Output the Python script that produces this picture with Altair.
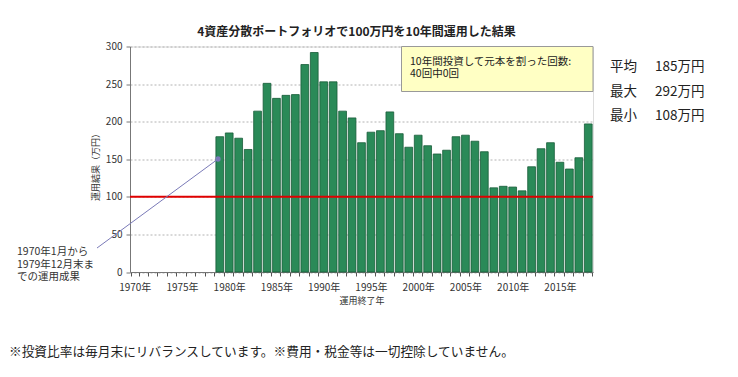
import altair as alt
import pandas as pd

years_all = list(range(1970, 2019))
years = list(range(1979, 2019))
values = [180, 185, 178, 163, 214, 251, 231, 235, 236, 276,
          292, 253, 253, 214, 205, 172, 186, 188, 213, 184,
          166, 182, 168, 157, 162, 180, 182, 174, 160, 112,
          114, 113, 108, 140, 164, 172, 146, 137, 152, 197]
y_ticks = [0, 50, 100, 150, 200, 250, 300]
ref_value = [100]
stat_labels = ["平均", "最大", "最小"]
stat_values = ["185万円", "292万円", "108万円"]

title_text = "4資産分散ポートフォリオで100万円を10年間運用した結果"
box_lines = ["10年間投資して元本を割った回数:", "40回中0回"]
note_lines = ["1970年1月から", "1979年12月末ま", "での運用成果"]
footer_text = "※投資比率は毎月末にリバランスしています。※費用・税金等は一切控除していません。"

FONT = "Noto Sans CJK JP"
W, H = 463, 225.5

df = pd.DataFrame({"year": years, "value": values})
ref_df = pd.DataFrame({"v": ref_value})

y_scale = alt.Scale(domain=[0, 300], nice=False)
y_axis = alt.Axis(title="運用結果（万円）", values=y_ticks, tickSize=4, labelPadding=4,
                  labelOverlap=False,
                  labelFontSize=10, labelColor="#333", labelFont=FONT,
                  titleFont=FONT, titleFontSize=9, titleFontWeight="normal", titleColor="#333",
                  titleAngle=-90, titleX=-35, titleY=118, titleBaseline="middle",
                  domainColor="#777", tickColor="#777",
                  grid=True, gridColor="#a0a0a0", gridDash=[2, 2], gridWidth=0.8)

bars = alt.Chart(df).mark_bar(fill="#2a8a58", stroke="#185c38", strokeWidth=0.8).encode(
    x=alt.X("year:O", scale=alt.Scale(domain=years_all, paddingInner=0.18, paddingOuter=0.09),
            axis=alt.Axis(title="運用終了年", labelExpr="datum.value % 5 == 0 ? datum.value + '年' : ''",
                          labelAngle=0, tickBand="extent", tickSize=4, labelPadding=6,
                          labelOverlap=False,
                          labelFontSize=10, labelColor="#333", labelFont=FONT,
                          titleFont=FONT, titleFontSize=9, titleFontWeight="normal", titleColor="#333",
                          titleY=28, titleBaseline="middle",
                          domainColor="#777", tickColor="#555", grid=False)),
    y=alt.Y("value:Q", scale=y_scale, axis=y_axis),
)

rule = alt.Chart(ref_df).mark_rule(color="#e00000", strokeWidth=2).encode(
    y=alt.Y("v:Q", scale=y_scale, axis=y_axis))

txt = dict(font=FONT, color="#222", baseline="middle", align="left")

title = alt.Chart(ref_df).mark_text(text=title_text, fontSize=12, fontWeight="bold",
                                     font=FONT, color="#222", baseline="middle", align="center").encode(
    x=alt.value(226.5), y=alt.value(-14.5))

box = alt.Chart(ref_df).mark_rect(fill="#ffffc4", stroke="#999", strokeWidth=1).encode(
    x=alt.value(271.5), x2=alt.value(W), y=alt.value(0), y2=alt.value(45))

layers_extra = []
for i, line in enumerate(box_lines):
    layers_extra.append(alt.Chart(ref_df).mark_text(text=line, fontSize=10.5, **txt).encode(
        x=alt.value(280), y=alt.value(15 + i * 12.5)))

for i, line in enumerate(note_lines):
    layers_extra.append(alt.Chart(ref_df).mark_text(text=line, fontSize=10.5, font=FONT, color="#333",
                                                    baseline="middle", align="left").encode(
        x=alt.value(-113), y=alt.value(205.5 + i * 12.5)))

arrow = alt.Chart(ref_df).mark_rule(color="#7a7ab8", strokeWidth=1).encode(
    x=alt.value(-33), y=alt.value(201.5), x2=alt.value(88), y2=alt.value(112.5))
dot = alt.Chart(ref_df).mark_point(filled=True, color="#7a7ab8", size=28, opacity=1).encode(
    x=alt.value(88), y=alt.value(112.5))

stats = []
for i, (lab, val) in enumerate(zip(stat_labels, stat_values)):
    yy = 20.5 + i * 24.5
    stats.append(alt.Chart(ref_df).mark_text(text=lab, fontSize=13.5, **txt).encode(
        x=alt.value(480), y=alt.value(yy)))
    stats.append(alt.Chart(ref_df).mark_text(text=val, fontSize=13.5, **txt).encode(
        x=alt.value(525), y=alt.value(yy)))

footer = alt.Chart(ref_df).mark_text(text=footer_text, fontSize=12.7, **txt).encode(
    x=alt.value(-121), y=alt.value(305.5))

chart = alt.layer(bars, rule, box, title, arrow, dot, footer, *layers_extra, *stats).properties(
    width=W, height=H,
    autosize=alt.AutoSizeParams(type="none"),
    padding={"left": 122, "top": 38.5, "right": 137, "bottom": 97},
).configure_view(stroke="#888", strokeWidth=1).configure(background="white")

chart.save("out.html", embed_options={"renderer": "svg", "actions": False})
